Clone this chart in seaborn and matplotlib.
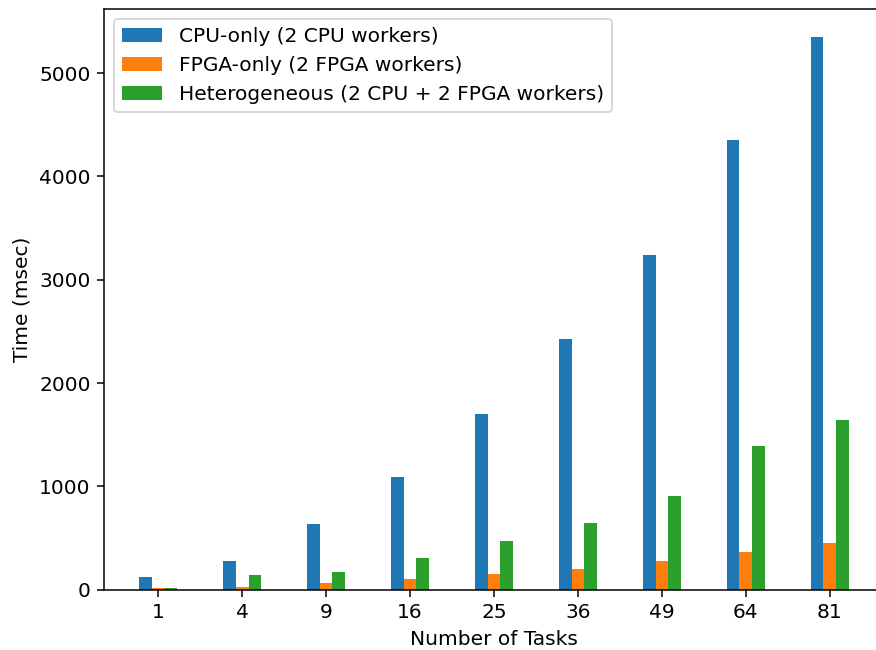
import numpy as np
import pandas as pd
import matplotlib
matplotlib.use('Agg')
import matplotlib.pyplot as plt
import seaborn as sns

# data
tasks = [1, 4, 9, 16, 25, 36, 49, 64, 81]
cpu_only = [121, 275, 633, 1088, 1700, 2425, 3237, 4357, 5353]
fpga_only = [14, 25, 63, 102, 150, 198, 275, 363, 450]
hetero = [14, 140, 170, 305, 469, 643, 905, 1388, 1640]

labels = ['CPU-only (2 CPU workers)',
          'FPGA-only (2 FPGA workers)',
          'Heterogeneous (2 CPU + 2 FPGA workers)']

df = pd.DataFrame({
    'tasks': [str(t) for t in tasks] * 3,
    'time': cpu_only + fpga_only + hetero,
    'config': [labels[0]] * len(tasks) + [labels[1]] * len(tasks) + [labels[2]] * len(tasks),
})

plt.rcParams['font.size'] = 10.6

dpi = 137
fig = plt.figure(figsize=(876 / dpi, 650 / dpi), dpi=dpi)
ax = fig.add_axes([104 / 876, 1 - 589.7 / 650, 780 / 876, (589.7 - 9) / 650])

sns.barplot(data=df, x='tasks', y='time', hue='config',
            order=[str(t) for t in tasks], hue_order=labels,
            palette=['#1f77b4', '#ff7f0e', '#2ca02c'],
            saturation=1, width=0.45, linewidth=0, errorbar=None, ax=ax)

ax.set_xlim(-0.6475, 8.6475)
ax.set_ylim(0, max(cpu_only) * 1.05)
ax.set_xlabel('Number of Tasks')
ax.set_ylabel('Time (msec)')
ax.legend(title=None, loc='upper left')

fig.savefig('out.png', dpi=dpi)
